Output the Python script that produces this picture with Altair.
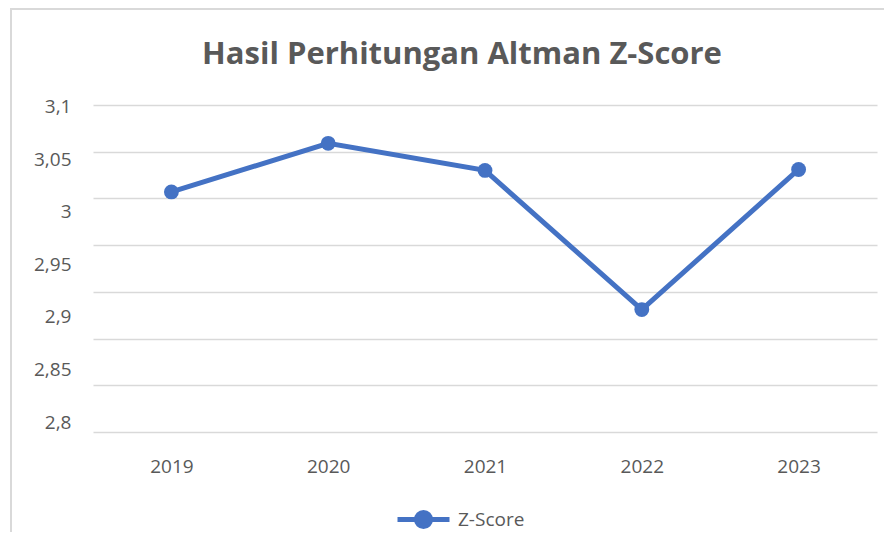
import altair as alt
import pandas as pd

years = ["2019", "2020", "2021", "2022", "2023"]
zscore = [3.007, 3.059, 3.030, 2.881, 3.031]
series = ["Z-Score"] * len(years)
tick_values = [2.8, 2.85, 2.9, 2.95, 3.0, 3.05, 3.1]
grid_values = [2.75, 2.8, 2.85, 2.9, 2.95, 3.0, 3.05, 3.1]

df = pd.DataFrame({"year": years, "z": zscore, "series": series})

BLUE = "#4472C4"
TXT = "#595959"
FONT = "Open Sans"

x_enc = alt.X("year:N", sort=years, title=None,
              scale=alt.Scale(paddingInner=1, paddingOuter=0.5),
              axis=alt.Axis(labelAngle=0, ticks=False, domain=False, grid=False,
                            labelPadding=25, labelFontSize=19, labelColor=TXT,
                            labelFont=FONT))

line = alt.Chart(df).mark_line(
    color=BLUE, strokeWidth=5,
    point=alt.OverlayMarkDef(filled=True, size=220, color=BLUE, opacity=1)
).encode(
    x=x_enc,
    y=alt.Y("z:Q", title=None,
            scale=alt.Scale(domain=[2.75, 3.1], nice=False, zero=False),
            axis=alt.Axis(values=grid_values, labels=False, ticks=False, domain=False,
                          grid=True, gridColor="#d9d9d9", gridWidth=1.5, orient="left")),
    color=alt.Color("series:N", title=None,
                    scale=alt.Scale(range=[BLUE]),
                    legend=alt.Legend(orient="none", legendX=302, legendY=386,
                                      symbolType="M-1,0H1M0.27,0A0.27,0.27,0,1,1,-0.27,0A0.27,0.27,0,1,1,0.27,0Z",
                                      symbolSize=2704, symbolStrokeWidth=5,
                                      symbolFillColor=BLUE, symbolStrokeColor=BLUE,
                                      labelFontSize=19, labelColor=TXT, labelFont=FONT,
                                      labelOffset=6))
)

labels = alt.Chart(df).mark_point(opacity=0).encode(
    y=alt.Y("z:Q", title=None,
            scale=alt.Scale(domain=[2.7905, 3.1016], nice=False, zero=False),
            axis=alt.Axis(values=tick_values, orient="left", grid=False, ticks=False,
                          domain=False, labelPadding=22, labelFontSize=19,
                          labelColor=TXT, labelFont=FONT,
                          labelExpr="replace(format(datum.value, '.2~f'), '.', ',')"))
)

border = alt.Chart(pd.DataFrame({"k": [0]})).mark_rect(
    fill=None, stroke="#d9d9d9", strokeWidth=2
).encode(x=alt.value(-82), x2=alt.value(900), y=alt.value(-96), y2=alt.value(700))

chart = alt.layer(border, line, labels).resolve_scale(y="independent").properties(
    width=784, height=327,
    padding={"left": 85, "top": 97, "right": 7, "bottom": 100},
    autosize=alt.AutoSizeParams(type="none"),
    title=alt.TitleParams("Hasil Perhitungan Altman Z-Score", font=FONT, fontSize=31,
                          fontWeight="bold", color=TXT, anchor="middle", dx=-23,
                          offset=0, dy=63),
).configure_view(stroke=None)

chart.save("out.html", embed_options={"renderer": "svg", "actions": False})
